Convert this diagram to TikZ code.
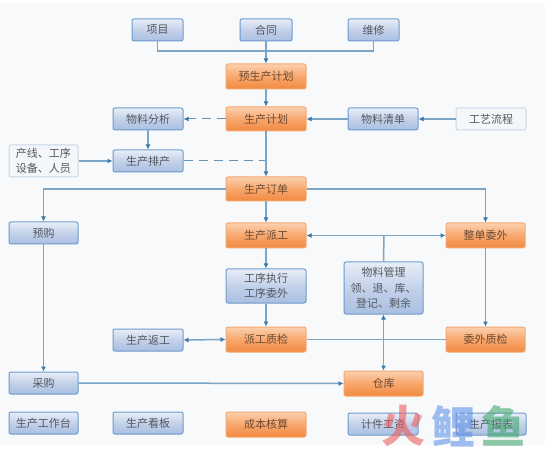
\documentclass[tikz,border=0pt]{standalone}
\usepackage{fontspec}
\setmainfont{Noto Sans CJK SC}
\usetikzlibrary{arrows.meta,calc}
\definecolor{bgc}{HTML}{F7F9FA}
\definecolor{linec}{HTML}{7BA6C8}
\definecolor{tipc}{HTML}{3B78A8}
\definecolor{txtc}{HTML}{53585F}
\definecolor{bb1}{HTML}{E8EEF8}\definecolor{bb2}{HTML}{C3D1E9}\definecolor{bb3}{HTML}{A9BFE2}\definecolor{bbd}{HTML}{6E9BCC}
\definecolor{ob1}{HTML}{FBD0AF}\definecolor{ob2}{HTML}{F8A76D}\definecolor{ob3}{HTML}{F2893F}\definecolor{obd}{HTML}{F4A871}\definecolor{ob4}{HTML}{6B4A33}
\definecolor{wbd}{HTML}{C9D8EA}\definecolor{wbf}{HTML}{F4F6FA}
\definecolor{wm1}{HTML}{EE5A5A}\definecolor{wm2}{HTML}{5B8FE8}\definecolor{wm3}{HTML}{3FA66B}
\tikzset{
 x=1pt,y=-1pt,
 box/.style={rounded corners=2pt,line width=1pt,inner sep=0pt,align=center,
   font=\fontsize{11}{15.5}\selectfont,text=txtc},
 bb/.style={box,draw=bbd,top color=bb1,bottom color=bb3,middle color=bb2},
 ob/.style={box,draw=obd,top color=ob1,bottom color=ob3,middle color=ob2,text=ob4},
 wb/.style={box,draw=wbd,fill=wbf},
 conn/.style={draw=linec,line width=1.5pt,arrows={-Latex[color=tipc,length=5pt,width=5pt]}},
 connb/.style={draw=linec,line width=1.5pt,arrows={Latex[color=tipc,length=5pt,width=5pt]-Latex[color=tipc,length=5pt,width=5pt]}},
 plain/.style={draw=linec,line width=1.5pt},
 dashc/.style={draw=tipc!80!white,line width=1pt,dash pattern=on 9pt off 6pt},
 mark1/.style={inner sep=0pt,opacity=.58,font=\fontsize{44}{44}\bfseries\selectfont}
}
\newcommand{\bx}[7]{\node[#1,minimum width=#4-#3,minimum height=#6-#5] (#2) at ({(#3+#4)/2},{(#5+#6)/2}) {#7};}
\begin{document}
\begin{tikzpicture}
\useasboundingbox (0,0) rectangle (549,449);
\fill[white] (0,0) rectangle (549,449);
\fill[bgc] (0,3) rectangle (545,445);
\bx{bb}{xm}{132}{183}{19}{41}{项目}
\bx{bb}{ht}{240}{292}{19}{41}{合同}
\bx{bb}{wx}{348}{399}{19}{41}{维修}
\bx{ob}{ysc}{226}{306}{64}{89}{预生产计划}
\bx{ob}{scjh}{226}{306}{107}{131}{生产计划}
\bx{bb}{wlfx}{113}{183}{108}{130}{物料分析}
\bx{bb}{wlqd}{348}{418}{108}{130}{物料清单}
\bx{wb}{gylc}{456}{526}{108}{130}{工艺流程}
\bx{wb}{cx}{9}{78}{145}{177}{产线、工序\\设备、人员}
\bx{bb}{scpc}{113}{183}{150}{172}{生产排产}
\bx{ob}{scdd}{226}{306}{177}{201}{生产订单}
\bx{bb}{yg}{9}{78}{222}{244}{预购}
\bx{ob}{scpg}{226}{306}{223}{248}{生产派工}
\bx{ob}{zdww}{446}{525}{223}{248}{整单委外}
\bx{bb}{gxzx}{226}{306}{269}{303}{工序执行\\工序委外}
\bx{bb}{wlgl}{344}{423}{262}{314}{物料管理\\领、退、库、\\登记、剩余}
\bx{ob}{pgzj}{226}{306}{327}{352}{派工质检}
\bx{ob}{wwzj}{446}{525}{327}{352}{委外质检}
\bx{bb}{scfg}{113}{183}{329}{351}{生产返工}
\bx{bb}{cg}{9}{78}{372}{394}{采购}
\bx{ob}{ck}{344}{423}{371}{396}{仓库}
\bx{bb}{gzt}{9}{78}{412}{434}{生产工作台}
\bx{bb}{kb}{113}{183}{412}{434}{生产看板}
\bx{ob}{cb}{226}{306}{412}{437}{成本核算}
\bx{bb}{jj}{348}{418}{413}{435}{计件工资}
\bx{bb}{bbb}{456}{526}{413}{435}{生产报表}
\coordinate (top) at (266,51);
\coordinate (pclink) at (266,161);
\coordinate (mid) at (384,235.5);
\draw[plain] (xm.south) |- (top);
\draw[plain] (wx.south) |- (top);
\draw[conn] (ht.south) -- (ysc.north);
\draw[conn] (ysc.south) -- (scjh.north);
\draw[dashc,arrows={-Latex[color=tipc,length=5pt,width=5pt]}] (scjh.west) -- (wlfx.east);
\draw[conn] (wlqd.west) -- (scjh.east);
\draw[conn] (gylc.west) -- (wlqd.east);
\draw[conn] (wlfx.south) -- (scpc.north);
\draw[conn] (cx.east) -- (scpc.west);
\draw[dashc] (scpc.east) -- (pclink);
\draw[conn] (scjh.south) -- (scdd.north);
\draw[conn] (scdd.west) -| (yg.north);
\draw[conn] (scdd.east) -| (zdww.north);
\draw[conn] (scdd.south) -- (scpg.north);
\draw[connb] (scpg.east) -- (zdww.west);
\draw[plain] (wlgl.north) -- (mid);
\draw[conn] (scpg.south) -- (gxzx.north);
\draw[conn] (gxzx.south) -- (pgzj.north);
\draw[connb] (scfg.east) -- (pgzj.west);
\draw[conn] (yg.south) -- (cg.north);
\draw[conn] (cg.east) -- (ck.west);
\draw[conn] (zdww.south) -- (wwzj.north);
\draw[plain,line width=1pt] (pgzj.east) -- (wwzj.west);
\draw[connb] (wlgl.south) -- (ck.north);
\node[mark1,text=wm1] (w1) at (403,426) {火};
\node[mark1,text=wm2] (w2) at (453,426) {鲤};
\node[mark1,text=wm3] (w3) at (503,426) {鱼};
\end{tikzpicture}
\end{document}
